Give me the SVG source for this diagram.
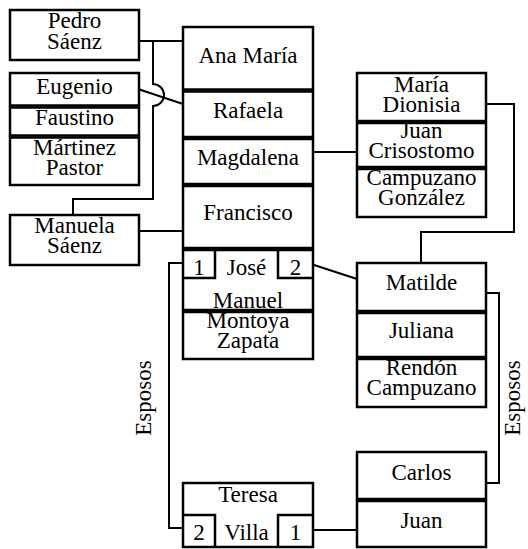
<svg xmlns="http://www.w3.org/2000/svg" width="528" height="549" viewBox="0 0 528 549">
  <style>
    .box { fill: #fff; stroke: #000; stroke-width: 2.5; }
    .sub { fill: none; stroke: #000; stroke-width: 2.5; }
    .link { fill: none; stroke: #000; stroke-width: 2; }
    text { font-family: "Liberation Serif", Tinos, "Times New Roman", Times, "DejaVu Serif", serif; font-size: 23px; fill: #000; text-anchor: middle; }
  </style>
  <defs>
    <marker id="dot" markerUnits="userSpaceOnUse" markerWidth="6" markerHeight="6" refX="3" refY="3">
      <circle cx="3" cy="3" r="1.6" fill="#000"/>
    </marker>
  </defs>

  <!-- connectors -->
  <g id="connectors">
    <path class="link" marker-start="url(#dot)" d="M138,41 H183"/>
    <path class="link" d="M153,41 V84 A11,11 0 0 1 153,106 V199 H73 V215"/>
    <path class="link" marker-start="url(#dot)" d="M138,89 L183,104"/>
    <path class="link" marker-start="url(#dot)" d="M138,231 H183"/>
    <path class="link" marker-start="url(#dot)" d="M311,152 H357"/>
    <path class="link" marker-start="url(#dot)" d="M311,264 L357,279"/>
    <path class="link" marker-start="url(#dot)" d="M485,104 H514 V232 H421 V263"/>
    <path class="link" marker-start="url(#dot)" d="M484,293 H499 V483 H484"/>
    <path class="link" d="M183,263 H169 V528 H183"/>
    <path class="link" marker-start="url(#dot)" d="M312,530 H357"/>
    <text font-family="Liberation Serif, serif" transform="translate(151,398) rotate(-90)">Esposos</text>
    <text font-family="Liberation Serif, serif" transform="translate(520,398) rotate(-90)">Esposos</text>
  </g>

  <!-- left column -->
  <g id="pedro-saenz">
    <rect class="box" x="10" y="10" width="129" height="50"/>
    <text x="74.5" y="28">Pedro</text>
    <text x="74.5" y="49">Sáenz</text>
  </g>
  <g id="eugenio">
    <rect class="box" x="10" y="73" width="129" height="32.5"/>
    <text x="74.5" y="94">Eugenio</text>
  </g>
  <g id="faustino">
    <rect class="box" x="10" y="107.5" width="129" height="28"/>
    <text x="74.5" y="125">Faustino</text>
  </g>
  <g id="martinez-pastor">
    <rect class="box" x="10" y="137.5" width="129" height="47.5"/>
    <text x="74.5" y="155">Mártinez</text>
    <text x="74.5" y="175">Pastor</text>
  </g>
  <g id="manuela-saenz">
    <rect class="box" x="10" y="215" width="129" height="50"/>
    <text x="74.5" y="233">Manuela</text>
    <text x="74.5" y="253">Sáenz</text>
  </g>

  <!-- centre column -->
  <g id="ana-maria">
    <rect class="box" x="183" y="27" width="130" height="62.5"/>
    <text x="248" y="63">Ana María</text>
  </g>
  <g id="rafaela">
    <rect class="box" x="183" y="91.5" width="130" height="45.5"/>
    <text x="248" y="118">Rafaela</text>
  </g>
  <g id="magdalena">
    <rect class="box" x="183" y="139" width="130" height="45"/>
    <text x="248" y="165">Magdalena</text>
  </g>
  <g id="francisco">
    <rect class="box" x="183" y="186" width="130" height="62"/>
    <text x="248" y="220">Francisco</text>
  </g>
  <g id="jose-manuel">
    <rect class="box" x="183" y="250" width="130" height="60"/>
    <path class="sub" d="M183,278 H215 V250 M313,278 H278 V250"/>
    <text x="199" y="275">1</text>
    <text x="246.5" y="275">José</text>
    <text x="295.5" y="275">2</text>
    <text x="248" y="308">Manuel</text>
  </g>
  <g id="montoya-zapata">
    <rect class="box" x="183" y="312" width="130" height="47"/>
    <text x="248" y="328">Montoya</text>
    <text x="248" y="348">Zapata</text>
  </g>
  <g id="teresa-villa">
    <rect class="box" x="183" y="483" width="130" height="64"/>
    <path class="sub" d="M183,515 H215 V547 M313,515 H278 V547"/>
    <text x="248" y="502">Teresa</text>
    <text x="199" y="540">2</text>
    <text x="246.5" y="540">Villa</text>
    <text x="295.5" y="540">1</text>
  </g>

  <!-- right column -->
  <g id="maria-dionisia">
    <rect class="box" x="357" y="73" width="129" height="48"/>
    <text x="421.5" y="92">María</text>
    <text x="421.5" y="112">Dionisia</text>
  </g>
  <g id="juan-crisostomo">
    <rect class="box" x="357" y="123" width="129" height="44"/>
    <text x="421.5" y="138">Juan</text>
    <text x="421.5" y="158">Crisostomo</text>
  </g>
  <g id="campuzano-gonzalez">
    <rect class="box" x="357" y="169" width="129" height="48"/>
    <text x="421.5" y="185">Campuzano</text>
    <text x="421.5" y="205">González</text>
  </g>
  <g id="matilde">
    <rect class="box" x="357" y="263" width="129" height="48"/>
    <text x="421.5" y="290">Matilde</text>
  </g>
  <g id="juliana">
    <rect class="box" x="357" y="313" width="129" height="44"/>
    <text x="421.5" y="338">Juliana</text>
  </g>
  <g id="rendon-campuzano">
    <rect class="box" x="357" y="359" width="129" height="48"/>
    <text x="421.5" y="375">Rendón</text>
    <text x="421.5" y="395">Campuzano</text>
  </g>
  <g id="carlos">
    <rect class="box" x="357" y="452" width="129" height="47"/>
    <text x="421.5" y="480">Carlos</text>
  </g>
  <g id="juan">
    <rect class="box" x="357" y="501" width="129" height="46"/>
    <text x="421.5" y="528">Juan</text>
  </g>
</svg>
